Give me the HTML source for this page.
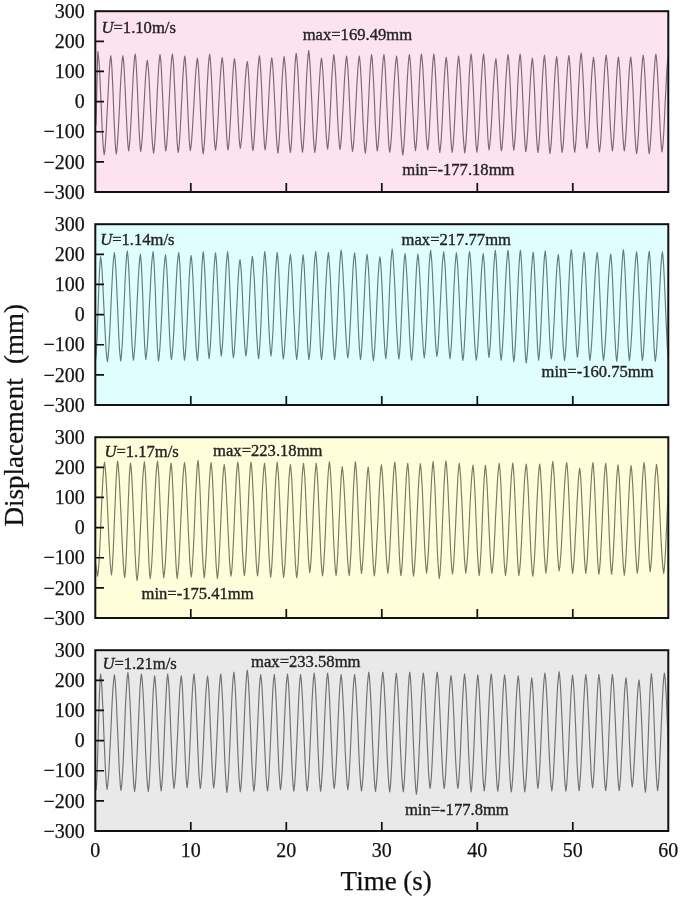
<!DOCTYPE html>
<html><head><meta charset="utf-8"><style>
html,body{margin:0;padding:0;background:#fff;width:685px;height:900px;overflow:hidden}
svg{display:block;filter:blur(0.35px)}
text{font-family:"Liberation Serif",serif;}
.a{stroke:#222;stroke-width:0.35px;paint-order:stroke}
.t{stroke:#111;stroke-width:0.25px}
</style></head><body>
<svg width="685" height="900" viewBox="0 0 685 900">
<rect width="685" height="900" fill="#fff"/>
<rect x="95.3" y="11.2" width="573.00" height="180.8" fill="#fce3ef"/>
<clipPath id="c0"><rect x="95.8" y="11.2" width="572.00" height="180.8"/></clipPath>
<path clip-path="url(#c0)" d="M95.8,125.7 96.0,122.5 96.2,116.7 96.4,108.7 96.6,99.1 96.8,88.6 97.1,78.2 97.3,68.6 97.5,60.6 97.7,54.8 97.9,51.6 98.5,56.1 99.2,64.1 99.8,75.2 100.4,88.6 101.1,103.1 101.7,117.6 102.3,131.0 102.9,142.1 103.6,150.2 104.2,154.6 104.9,150.3 105.5,142.6 106.2,131.9 106.8,119.1 107.5,105.2 108.2,91.3 108.8,78.5 109.5,67.8 110.1,60.1 110.8,55.8 111.3,60.1 111.9,67.7 112.4,78.4 113.0,91.1 113.5,104.9 114.0,118.8 114.6,131.5 115.1,142.1 115.7,149.8 116.2,154.0 116.9,149.8 117.5,142.1 118.2,131.5 118.9,118.8 119.6,104.9 120.2,91.1 120.9,78.4 121.6,67.7 122.2,60.1 122.9,55.8 123.5,59.9 124.1,67.4 124.6,77.7 125.2,90.0 125.8,103.4 126.4,116.8 127.0,129.2 127.5,139.4 128.1,146.9 128.7,151.0 129.3,146.8 130.0,139.2 130.6,128.7 131.3,116.2 131.9,102.5 132.6,88.8 133.2,76.3 133.9,65.8 134.5,58.2 135.2,54.0 135.8,58.2 136.3,65.8 136.8,76.3 137.4,88.9 137.9,102.7 138.5,116.4 139.0,129.0 139.6,139.5 140.1,147.1 140.7,151.3 141.4,147.4 142.0,140.2 142.7,130.4 143.3,118.6 144.0,105.8 144.7,93.0 145.3,81.2 146.0,71.4 146.6,64.3 147.3,60.3 147.9,64.3 148.6,71.6 149.2,81.6 149.8,93.6 150.4,106.7 151.1,119.8 151.7,131.8 152.3,141.8 153.0,149.1 153.6,153.1 154.2,148.9 154.9,141.1 155.5,130.5 156.2,117.7 156.8,103.9 157.4,90.0 158.1,77.2 158.7,66.6 159.4,58.9 160.0,54.6 160.6,58.8 161.2,66.3 161.7,76.7 162.3,89.2 162.9,102.8 163.5,116.4 164.1,128.9 164.6,139.3 165.2,146.8 165.8,151.0 166.5,146.8 167.1,139.2 167.8,128.7 168.4,116.2 169.1,102.5 169.8,88.8 170.4,76.3 171.1,65.8 171.7,58.2 172.4,54.0 173.0,58.3 173.6,66.0 174.1,76.6 174.7,89.4 175.3,103.3 175.9,117.1 176.5,129.9 177.0,140.5 177.6,148.2 178.2,152.5 178.9,148.3 179.5,140.8 180.2,130.4 180.8,117.9 181.5,104.3 182.2,90.7 182.8,78.2 183.5,67.8 184.1,60.3 184.8,56.1 185.4,60.2 185.9,67.6 186.5,77.8 187.0,90.1 187.6,103.4 188.1,116.7 188.7,129.0 189.2,139.2 189.8,146.6 190.3,150.7 191.0,146.7 191.7,139.5 192.4,129.5 193.1,117.5 193.9,104.5 194.6,91.4 195.3,79.4 196.0,69.5 196.7,62.2 197.4,58.2 198.0,62.4 198.6,69.9 199.1,80.2 199.7,92.6 200.3,106.1 200.9,119.6 201.5,132.0 202.0,142.4 202.6,149.9 203.2,154.0 203.8,149.7 204.5,141.9 205.1,131.1 205.8,118.2 206.4,104.2 207.0,90.1 207.7,77.2 208.3,66.4 209.0,58.6 209.6,54.3 210.2,58.4 210.8,65.9 211.4,76.3 212.0,88.7 212.6,102.2 213.1,115.7 213.7,128.1 214.3,138.5 214.9,146.0 215.5,150.1 216.2,146.1 216.8,138.9 217.5,128.9 218.2,116.9 218.8,103.9 219.5,90.8 220.2,78.8 220.9,68.9 221.5,61.6 222.2,57.6 222.8,61.6 223.4,68.8 223.9,78.8 224.5,90.7 225.1,103.7 225.7,116.7 226.3,128.6 226.8,138.6 227.4,145.8 228.0,149.8 228.7,145.9 229.3,138.7 229.9,128.9 230.6,117.1 231.2,104.3 231.9,91.5 232.6,79.7 233.2,69.9 233.8,62.8 234.5,58.8 235.1,62.7 235.7,69.7 236.2,79.4 236.8,91.0 237.4,103.6 238.0,116.2 238.6,127.8 239.1,137.4 239.7,144.4 240.3,148.3 241.0,144.5 241.7,137.7 242.4,128.4 243.1,117.1 243.8,104.9 244.5,92.7 245.2,81.4 245.9,72.1 246.6,65.3 247.3,61.5 247.9,65.4 248.4,72.4 249.0,82.0 249.5,93.6 250.1,106.1 250.7,118.7 251.2,130.2 251.8,139.9 252.3,146.8 252.9,150.7 253.6,146.6 254.2,139.2 254.8,128.9 255.5,116.6 256.1,103.3 256.8,89.9 257.4,77.6 258.1,67.3 258.8,59.9 259.4,55.8 260.0,59.9 260.5,67.2 261.1,77.4 261.7,89.6 262.2,102.8 262.8,116.0 263.4,128.2 264.0,138.4 264.5,145.7 265.1,149.8 265.8,145.8 266.4,138.6 267.1,128.7 267.8,116.8 268.5,103.9 269.1,90.9 269.8,79.0 270.5,69.1 271.1,61.9 271.8,57.9 272.4,62.0 273.0,69.5 273.6,79.8 274.2,92.1 274.9,105.5 275.5,118.9 276.1,131.3 276.7,141.5 277.3,149.0 277.9,153.1 278.5,148.9 279.1,141.4 279.8,131.0 280.4,118.5 281.0,104.9 281.6,91.3 282.2,78.8 282.9,68.4 283.5,60.9 284.1,56.7 284.7,60.9 285.4,68.4 286.0,78.7 286.6,91.1 287.2,104.6 287.9,118.1 288.5,130.5 289.1,140.9 289.8,148.4 290.4,152.5 291.0,148.2 291.6,140.5 292.1,129.8 292.7,116.9 293.3,103.0 293.9,89.0 294.5,76.1 295.0,65.4 295.6,57.7 296.2,53.4 296.8,57.7 297.5,65.4 298.1,76.1 298.7,88.9 299.4,102.8 300.0,116.7 300.6,129.5 301.2,140.2 301.9,147.9 302.5,152.2 303.1,147.8 303.7,139.9 304.4,128.9 305.0,115.7 305.6,101.4 306.2,87.0 306.8,73.9 307.5,62.9 308.1,54.9 308.7,50.5 309.3,55.0 309.9,62.9 310.5,73.9 311.1,87.2 311.8,101.5 312.4,115.9 313.0,129.1 313.6,140.1 314.2,148.1 314.8,152.5 315.5,148.4 316.1,141.1 316.8,130.9 317.5,118.7 318.1,105.4 318.8,92.1 319.5,79.9 320.2,69.7 320.8,62.3 321.5,58.2 322.1,62.2 322.7,69.3 323.3,79.1 323.9,90.9 324.6,103.7 325.2,116.5 325.8,128.3 326.4,138.1 327.0,145.3 327.6,149.2 328.2,145.1 328.8,137.7 329.5,127.5 330.1,115.2 330.7,101.9 331.3,88.6 331.9,76.3 332.6,66.1 333.2,58.7 333.8,54.6 334.4,58.7 335.0,66.1 335.7,76.4 336.3,88.7 336.9,102.1 337.5,115.4 338.1,127.7 338.8,138.0 339.4,145.4 340.0,149.5 340.7,145.5 341.3,138.1 342.0,128.1 342.6,116.0 343.3,102.8 344.0,89.6 344.6,77.5 345.3,67.5 345.9,60.2 346.6,56.1 347.2,60.2 347.8,67.7 348.4,78.0 349.0,90.3 349.6,103.7 350.1,117.1 350.7,129.5 351.3,139.7 351.9,147.2 352.5,151.3 353.2,147.2 353.9,139.7 354.5,129.5 355.2,117.1 355.9,103.7 356.6,90.3 357.3,78.0 357.9,67.7 358.6,60.2 359.3,56.1 359.9,60.3 360.5,67.9 361.1,78.4 361.7,90.9 362.3,104.6 362.9,118.3 363.5,130.8 364.1,141.3 364.7,148.9 365.3,153.1 365.9,148.9 366.6,141.1 367.2,130.5 367.8,117.7 368.5,103.9 369.1,90.0 369.7,77.2 370.3,66.6 371.0,58.9 371.6,54.6 372.2,58.8 372.7,66.3 373.3,76.7 373.9,89.2 374.5,102.8 375.0,116.4 375.6,128.9 376.2,139.3 376.7,146.8 377.3,151.0 378.0,146.8 378.6,139.3 379.3,128.9 379.9,116.4 380.6,102.8 381.3,89.2 381.9,76.7 382.6,66.3 383.2,58.8 383.9,54.6 384.5,58.8 385.1,66.5 385.6,77.0 386.2,89.7 386.8,103.4 387.4,117.2 388.0,129.8 388.5,140.3 389.1,148.0 389.7,152.2 390.4,148.1 391.1,140.5 391.8,130.2 392.5,117.7 393.1,104.2 393.8,90.6 394.5,78.2 395.2,67.8 395.9,60.3 396.6,56.1 397.2,60.4 397.8,68.1 398.5,78.8 399.1,91.6 399.7,105.5 400.3,119.5 400.9,132.3 401.6,143.0 402.2,150.7 402.8,155.0 403.5,150.6 404.1,142.8 404.8,131.9 405.4,118.9 406.1,104.8 406.8,90.7 407.4,77.6 408.1,66.8 408.7,58.9 409.4,54.6 410.0,58.8 410.6,66.3 411.2,76.7 411.8,89.1 412.4,102.7 413.1,116.2 413.7,128.6 414.3,139.0 414.9,146.5 415.5,150.7 416.1,146.5 416.7,138.9 417.3,128.5 417.9,116.0 418.4,102.4 419.0,88.7 419.6,76.2 420.2,65.8 420.8,58.2 421.4,54.0 422.0,58.1 422.7,65.6 423.3,76.0 423.9,88.4 424.5,101.9 425.2,115.4 425.8,127.8 426.4,138.2 427.1,145.7 427.7,149.8 428.3,145.7 428.9,138.2 429.5,127.8 430.1,115.4 430.8,101.9 431.4,88.4 432.0,76.0 432.6,65.6 433.2,58.1 433.8,54.0 434.4,58.3 435.0,66.0 435.6,76.6 436.2,89.4 436.8,103.3 437.4,117.1 438.0,129.9 438.6,140.5 439.2,148.2 439.8,152.5 440.4,148.4 441.1,140.9 441.7,130.7 442.4,118.3 443.0,104.9 443.6,91.5 444.3,79.2 444.9,68.9 445.6,61.4 446.2,57.3 446.8,61.4 447.4,68.9 448.0,79.2 448.6,91.5 449.2,104.9 449.8,118.3 450.4,130.7 451.0,140.9 451.6,148.4 452.2,152.5 452.8,148.3 453.5,140.8 454.1,130.4 454.8,117.9 455.4,104.3 456.0,90.7 456.7,78.2 457.3,67.8 458.0,60.3 458.6,56.1 459.2,60.3 459.8,67.9 460.5,78.3 461.1,90.8 461.7,104.5 462.3,118.1 462.9,130.6 463.6,141.1 464.2,148.6 464.8,152.8 465.4,148.5 466.1,140.8 466.7,130.1 467.3,117.3 468.0,103.4 468.6,89.5 469.2,76.7 469.8,66.0 470.5,58.3 471.1,54.0 471.7,58.3 472.3,65.9 472.8,76.5 473.4,89.3 474.0,103.1 474.6,116.9 475.2,129.7 475.7,140.3 476.3,148.0 476.9,152.2 477.6,148.0 478.2,140.3 478.9,129.7 479.6,116.9 480.2,103.1 480.9,89.3 481.6,76.5 482.3,65.9 482.9,58.3 483.6,54.0 484.1,58.1 484.7,65.6 485.2,76.0 485.8,88.4 486.3,101.9 486.8,115.4 487.4,127.8 487.9,138.2 488.5,145.7 489.0,149.8 489.7,145.9 490.4,138.7 491.1,128.9 491.8,117.1 492.4,104.3 493.1,91.5 493.8,79.7 494.5,69.9 495.2,62.8 495.9,58.8 496.4,62.8 497.0,70.0 497.5,80.0 498.1,91.9 498.6,104.9 499.2,117.9 499.8,129.8 500.3,139.8 500.8,147.0 501.4,151.0 502.1,146.8 502.7,139.3 503.4,128.9 504.1,116.4 504.8,102.8 505.4,89.2 506.1,76.7 506.8,66.3 507.4,58.8 508.1,54.6 508.7,58.7 509.2,66.2 509.8,76.5 510.4,88.9 510.9,102.4 511.5,115.8 512.1,128.2 512.7,138.5 513.2,146.0 513.8,150.1 514.4,145.9 515.1,138.4 515.7,128.0 516.3,115.6 517.0,102.1 517.6,88.5 518.2,76.1 518.8,65.7 519.5,58.2 520.1,54.0 520.7,58.2 521.2,65.9 521.8,76.4 522.4,89.1 523.0,102.8 523.5,116.6 524.1,129.2 524.7,139.7 525.2,147.4 525.8,151.6 526.5,147.6 527.1,140.3 527.8,130.2 528.4,118.1 529.1,104.9 529.8,91.8 530.4,79.7 531.1,69.6 531.7,62.3 532.4,58.2 532.9,62.3 533.5,69.7 534.0,79.9 534.6,92.1 535.1,105.4 535.7,118.7 536.2,130.9 536.8,141.1 537.4,148.4 537.9,152.5 538.6,148.3 539.2,140.7 539.9,130.2 540.5,117.6 541.2,103.9 541.9,90.1 542.5,77.5 543.2,67.0 543.8,59.4 544.5,55.2 545.0,59.5 545.6,67.1 546.1,77.8 546.7,90.5 547.2,104.3 547.7,118.1 548.3,130.9 548.8,141.5 549.4,149.2 549.9,153.4 550.6,149.2 551.3,141.7 551.9,131.2 552.6,118.7 553.3,105.1 554.0,91.4 554.7,78.9 555.3,68.5 556.0,60.9 556.7,56.7 557.2,60.9 557.8,68.4 558.3,78.7 558.9,91.1 559.4,104.6 559.9,118.1 560.5,130.5 561.0,140.9 561.6,148.4 562.1,152.5 562.8,148.3 563.5,140.7 564.1,130.2 564.8,117.7 565.5,104.0 566.2,90.3 566.9,77.8 567.5,67.3 568.2,59.7 568.9,55.5 569.5,59.7 570.1,67.3 570.6,77.7 571.2,90.2 571.8,103.9 572.4,117.5 573.0,130.0 573.5,140.5 574.1,148.0 574.7,152.2 575.3,147.9 576.0,140.2 576.6,129.5 577.3,116.6 577.9,102.7 578.5,88.7 579.2,75.8 579.8,65.1 580.5,57.4 581.1,53.1 581.7,57.2 582.3,64.7 582.9,74.9 583.5,87.3 584.0,100.7 584.6,114.1 585.2,126.4 585.8,136.7 586.4,144.2 587.0,148.3 587.6,144.4 588.3,137.2 589.0,127.4 589.6,115.6 590.2,102.8 590.9,90.0 591.5,78.2 592.2,68.4 592.9,61.3 593.5,57.3 594.1,61.4 594.7,68.8 595.3,79.0 595.9,91.3 596.5,104.6 597.0,117.9 597.6,130.2 598.2,140.4 598.8,147.8 599.4,151.9 600.1,147.7 600.8,140.2 601.4,129.7 602.1,117.2 602.8,103.6 603.5,89.9 604.2,77.4 604.8,67.0 605.5,59.4 606.2,55.2 606.8,59.4 607.4,66.9 608.1,77.2 608.7,89.6 609.3,103.1 609.9,116.6 610.5,129.0 611.2,139.4 611.8,146.9 612.4,151.0 613.0,146.9 613.6,139.6 614.2,129.4 614.8,117.3 615.4,104.0 616.0,90.8 616.6,78.6 617.2,68.4 617.8,61.1 618.4,57.0 619.0,61.1 619.6,68.4 620.2,78.6 620.8,90.8 621.3,104.0 621.9,117.3 622.5,129.4 623.1,139.6 623.7,146.9 624.3,151.0 624.9,146.9 625.6,139.6 626.2,129.4 626.9,117.3 627.5,104.0 628.1,90.8 628.8,78.6 629.4,68.4 630.1,61.1 630.7,57.0 631.3,61.2 631.9,68.8 632.5,79.2 633.1,91.7 633.7,105.4 634.2,119.0 634.8,131.5 635.4,142.0 636.0,149.5 636.6,153.7 637.3,149.5 637.9,141.7 638.6,131.1 639.2,118.3 639.9,104.5 640.6,90.6 641.2,77.8 641.9,67.2 642.5,59.5 643.2,55.2 643.8,59.5 644.4,67.2 645.0,77.8 645.6,90.6 646.2,104.5 646.8,118.3 647.4,131.1 648.0,141.7 648.6,149.5 649.2,153.7 649.9,149.4 650.5,141.6 651.2,130.8 651.9,117.9 652.5,103.9 653.2,89.8 653.9,76.9 654.6,66.1 655.2,58.3 655.9,54.0 656.5,58.2 657.1,65.9 657.7,76.5 658.3,89.2 659.0,103.0 659.6,116.8 660.2,129.4 660.8,140.0 661.4,147.7 662.0,151.9 662.6,147.8 663.3,140.3 663.9,130.0 664.5,117.6 665.1,104.2 665.8,90.7 666.4,78.3 667.0,68.0 667.7,60.5 668.3,56.4" fill="none" stroke="#1a0610" stroke-opacity="0.56" stroke-width="1.15" stroke-linejoin="round"/>
<path d="M95.3,161.86H104.00M95.3,131.73H104.00M95.3,101.60H104.00M95.3,71.47H104.00M95.3,41.34H104.00M190.80,192.0V183.00M286.30,192.0V183.00M381.80,192.0V183.00M477.30,192.0V183.00M572.80,192.0V183.00" stroke="#111" stroke-width="1.7" fill="none"/>
<rect x="95.3" y="11.2" width="573.00" height="180.8" fill="none" stroke="#111" stroke-width="2"/>
<text x="84.8" y="17.91" font-size="20" text-anchor="end" fill="#111" class="t">300</text>
<text x="84.8" y="48.04" font-size="20" text-anchor="end" fill="#111" class="t">200</text>
<text x="84.8" y="78.17" font-size="20" text-anchor="end" fill="#111" class="t">100</text>
<text x="84.8" y="108.30" font-size="20" text-anchor="end" fill="#111" class="t">0</text>
<text x="84.8" y="138.43" font-size="20" text-anchor="end" fill="#111" class="t">−100</text>
<text x="84.8" y="168.56" font-size="20" text-anchor="end" fill="#111" class="t">−200</text>
<text x="84.8" y="198.69" font-size="20" text-anchor="end" fill="#111" class="t">−300</text>
<text x="101.5" y="32.7" font-size="16.6" fill="#222" class="a"><tspan font-style="italic">U</tspan>=1.10m/s</text>
<text x="302.7" y="40" font-size="16.6" fill="#222" class="a">max=169.49mm</text>
<text x="402.3" y="174.6" font-size="16.6" fill="#222" class="a">min=-177.18mm</text>
<rect x="95.3" y="224.2" width="573.00" height="180.8" fill="#e0fefe"/>
<clipPath id="c1"><rect x="95.8" y="224.2" width="572.00" height="180.8"/></clipPath>
<path clip-path="url(#c1)" d="M95.6,359.8 96.1,355.3 96.6,347.3 97.1,336.1 97.6,322.8 98.1,308.3 98.6,293.8 99.1,280.4 99.6,269.3 100.1,261.2 100.6,256.8 101.3,261.3 102.0,269.5 102.6,280.8 103.3,294.4 104.0,309.2 104.7,323.9 105.4,337.5 106.0,348.9 106.7,357.1 107.4,361.6 108.1,356.9 108.8,348.3 109.5,336.6 110.2,322.4 110.9,307.1 111.6,291.7 112.3,277.6 113.0,265.8 113.7,257.3 114.4,252.5 115.0,257.2 115.7,265.7 116.3,277.4 116.9,291.5 117.6,306.8 118.2,322.0 118.8,336.1 119.4,347.8 120.1,356.3 120.7,361.0 121.4,356.2 122.0,347.6 122.7,335.8 123.3,321.5 124.0,306.0 124.7,290.5 125.3,276.3 126.0,264.4 126.6,255.8 127.3,251.0 127.9,255.8 128.5,264.3 129.1,276.1 129.7,290.2 130.3,305.6 131.0,320.9 131.6,335.1 132.2,346.8 132.8,355.4 133.4,360.1 134.1,355.5 134.8,347.2 135.5,335.8 136.2,322.1 136.9,307.2 137.6,292.3 138.3,278.6 139.0,267.2 139.7,258.9 140.4,254.3 140.9,258.9 141.5,267.1 142.0,278.5 142.6,292.1 143.1,306.9 143.6,321.7 144.2,335.4 144.7,346.7 145.3,354.9 145.8,359.5 146.5,354.8 147.3,346.4 148.0,334.7 148.7,320.8 149.4,305.6 150.2,290.4 150.9,276.4 151.6,264.7 152.4,256.3 153.1,251.6 153.6,256.4 154.2,264.9 154.7,276.7 155.3,290.9 155.8,306.3 156.3,321.7 156.9,335.9 157.4,347.7 158.0,356.3 158.5,361.0 159.2,356.4 159.9,348.1 160.6,336.7 161.3,322.9 162.0,308.0 162.7,293.0 163.4,279.3 164.1,267.8 164.8,259.5 165.5,254.9 166.1,259.5 166.7,267.7 167.3,278.9 167.9,292.5 168.4,307.2 169.0,321.9 169.6,335.5 170.2,346.8 170.8,355.0 171.4,359.5 172.1,354.9 172.9,346.5 173.6,334.9 174.3,321.1 175.1,306.0 175.8,290.9 176.5,277.1 177.2,265.5 178.0,257.2 178.7,252.5 179.3,257.2 179.9,265.6 180.4,277.2 181.0,291.2 181.6,306.3 182.2,321.5 182.8,335.4 183.3,347.0 183.9,355.4 184.5,360.1 185.2,355.6 185.8,347.4 186.5,336.1 187.1,322.6 187.8,307.8 188.5,293.1 189.1,279.5 189.8,268.3 190.4,260.1 191.1,255.5 191.7,260.1 192.4,268.3 193.0,279.6 193.6,293.2 194.2,308.0 194.9,322.7 195.5,336.3 196.1,347.6 196.8,355.9 197.4,360.4 198.0,355.7 198.6,347.2 199.1,335.5 199.7,321.4 200.3,306.2 200.9,290.9 201.5,276.8 202.0,265.1 202.6,256.6 203.2,251.9 203.8,256.6 204.4,264.9 205.0,276.4 205.6,290.2 206.1,305.3 206.7,320.3 207.3,334.1 207.9,345.6 208.5,354.0 209.1,358.6 209.7,354.0 210.4,345.7 211.0,334.3 211.7,320.6 212.3,305.7 212.9,290.8 213.6,277.1 214.2,265.7 214.9,257.4 215.5,252.8 216.1,257.3 216.7,265.4 217.2,276.5 217.8,289.8 218.4,304.4 219.0,318.9 219.6,332.2 220.1,343.3 220.7,351.4 221.3,355.9 221.9,351.4 222.6,343.2 223.2,332.0 223.8,318.5 224.4,303.9 225.1,289.3 225.7,275.8 226.3,264.6 227.0,256.4 227.6,251.9 228.2,256.5 228.8,264.8 229.3,276.2 229.9,289.9 230.5,304.8 231.1,319.7 231.7,333.4 232.2,344.8 232.8,353.1 233.4,357.7 234.1,353.4 234.7,345.7 235.4,335.1 236.0,322.4 236.7,308.6 237.4,294.7 238.0,282.0 238.7,271.4 239.3,263.7 240.0,259.5 240.6,263.6 241.2,271.2 241.8,281.6 242.4,294.1 242.9,307.7 243.5,321.3 244.1,333.7 244.7,344.2 245.3,351.7 245.9,355.9 246.6,351.6 247.2,343.8 247.8,333.1 248.5,320.2 249.2,306.2 249.8,292.2 250.5,279.3 251.1,268.5 251.8,260.8 252.4,256.4 253.0,260.9 253.6,268.9 254.3,279.9 254.9,293.1 255.5,307.5 256.1,321.9 256.7,335.1 257.4,346.2 258.0,354.2 258.6,358.6 259.2,354.0 259.8,345.6 260.5,334.0 261.1,320.2 261.7,305.1 262.3,290.0 262.9,276.2 263.6,264.6 264.2,256.3 264.8,251.6 265.4,256.1 266.0,264.3 266.7,275.6 267.3,289.1 267.9,303.8 268.5,318.4 269.1,331.9 269.8,343.2 270.4,351.4 271.0,355.9 271.6,351.4 272.2,343.3 272.9,332.2 273.5,318.8 274.1,304.2 274.7,289.6 275.3,276.3 276.0,265.1 276.6,257.0 277.2,252.5 277.8,257.1 278.4,265.5 279.0,277.0 279.6,290.7 280.2,305.7 280.9,320.7 281.5,334.5 282.1,346.0 282.7,354.3 283.3,358.9 284.0,354.4 284.7,346.2 285.4,334.9 286.1,321.3 286.9,306.6 287.6,291.9 288.3,278.3 289.0,267.1 289.7,258.9 290.4,254.3 291.0,258.9 291.7,267.1 292.3,278.5 292.9,292.1 293.5,306.9 294.2,321.7 294.8,335.4 295.4,346.7 296.1,354.9 296.7,359.5 297.3,355.0 298.0,346.8 298.6,335.5 299.3,321.9 299.9,307.2 300.5,292.5 301.2,278.9 301.8,267.7 302.5,259.5 303.1,254.9 303.7,259.5 304.3,267.7 304.8,278.9 305.4,292.5 306.0,307.2 306.6,321.9 307.2,335.5 307.7,346.8 308.3,355.0 308.9,359.5 309.6,354.8 310.3,346.4 310.9,334.7 311.6,320.8 312.3,305.6 313.0,290.4 313.7,276.4 314.3,264.7 315.0,256.3 315.7,251.6 316.3,256.3 316.9,264.7 317.4,276.4 318.0,290.4 318.6,305.6 319.2,320.8 319.8,334.7 320.3,346.4 320.9,354.8 321.5,359.5 322.2,354.9 322.9,346.5 323.6,334.9 324.3,321.1 324.9,306.0 325.6,290.9 326.3,277.1 327.0,265.5 327.7,257.2 328.4,252.5 329.0,257.2 329.6,265.5 330.3,277.1 330.9,290.9 331.5,306.0 332.1,321.1 332.7,334.9 333.4,346.5 334.0,354.9 334.6,359.5 335.2,354.8 335.9,346.2 336.6,334.4 337.2,320.2 337.9,304.8 338.5,289.4 339.2,275.2 339.8,263.4 340.5,254.9 341.1,250.1 341.8,254.8 342.4,263.2 343.1,274.9 343.8,288.9 344.5,304.1 345.1,319.3 345.8,333.2 346.5,344.9 347.1,353.3 347.8,358.0 348.5,353.4 349.2,345.2 349.8,333.8 350.5,320.2 351.2,305.4 351.9,290.6 352.6,277.0 353.2,265.6 353.9,257.4 354.6,252.8 355.2,257.5 355.8,265.8 356.4,277.3 357.0,291.1 357.6,306.2 358.1,321.2 358.7,335.0 359.3,346.5 359.9,354.9 360.5,359.5 361.2,354.9 361.8,346.7 362.5,335.4 363.1,321.7 363.8,306.9 364.5,292.1 365.1,278.5 365.8,267.1 366.4,258.9 367.1,254.3 367.7,259.0 368.4,267.3 369.0,278.8 369.6,292.5 370.2,307.5 370.9,322.5 371.5,336.3 372.1,347.8 372.8,356.1 373.4,360.7 374.0,356.2 374.7,348.1 375.3,336.8 376.0,323.4 376.6,308.7 377.3,294.1 377.9,280.6 378.6,269.4 379.2,261.3 379.9,256.8 380.5,261.2 381.1,269.1 381.7,280.1 382.3,293.3 382.9,307.7 383.4,322.0 384.0,335.2 384.6,346.2 385.2,354.2 385.8,358.6 386.4,353.8 387.1,345.3 387.7,333.4 388.4,319.2 389.0,303.8 389.6,288.3 390.3,274.1 390.9,262.3 391.6,253.7 392.2,249.0 392.9,253.7 393.5,262.3 394.2,274.2 394.9,288.4 395.5,303.9 396.2,319.4 396.9,333.7 397.6,345.5 398.2,354.1 398.9,358.9 399.5,354.3 400.1,346.1 400.7,334.7 401.3,321.1 401.9,306.3 402.6,291.5 403.2,277.9 403.8,266.5 404.4,258.3 405.0,253.7 405.7,258.3 406.3,266.7 407.0,278.2 407.6,291.9 408.3,306.9 409.0,321.9 409.6,335.7 410.3,347.2 410.9,355.5 411.6,360.1 412.2,355.5 412.9,347.2 413.5,335.7 414.1,322.0 414.8,307.1 415.4,292.1 416.0,278.4 416.6,266.9 417.3,258.6 417.9,254.0 418.5,258.5 419.2,266.7 419.8,277.9 420.5,291.4 421.1,306.0 421.7,320.7 422.4,334.1 423.0,345.3 423.7,353.5 424.3,358.0 424.9,353.3 425.6,344.9 426.2,333.3 426.8,319.4 427.5,304.2 428.1,289.1 428.7,275.1 429.3,263.5 430.0,255.1 430.6,250.4 431.2,255.0 431.9,263.3 432.5,274.8 433.1,288.5 433.8,303.5 434.4,318.4 435.0,332.1 435.6,343.6 436.3,351.9 436.9,356.5 437.6,351.9 438.3,343.8 438.9,332.5 439.6,318.9 440.3,304.2 441.0,289.5 441.7,275.9 442.3,264.6 443.0,256.5 443.7,251.9 444.3,256.6 445.0,264.9 445.6,276.4 446.2,290.2 446.9,305.3 447.5,320.3 448.1,334.1 448.7,345.6 449.4,354.0 450.0,358.6 450.6,354.0 451.3,345.7 451.9,334.3 452.6,320.6 453.2,305.7 453.8,290.8 454.5,277.1 455.1,265.7 455.8,257.4 456.4,252.8 457.0,257.5 457.7,265.9 458.3,277.5 459.0,291.5 459.6,306.6 460.3,321.8 460.9,335.7 461.6,347.3 462.2,355.7 462.9,360.4 463.6,355.7 464.2,347.2 464.9,335.4 465.5,321.3 466.2,306.0 466.9,290.7 467.5,276.6 468.2,264.9 468.8,256.3 469.5,251.6 470.2,256.3 470.9,264.8 471.5,276.5 472.2,290.6 472.9,305.9 473.6,321.1 474.3,335.2 474.9,346.9 475.6,355.4 476.3,360.1 477.0,355.5 477.7,347.2 478.4,335.7 479.1,321.9 479.8,306.9 480.4,291.9 481.1,278.2 481.8,266.7 482.5,258.3 483.2,253.7 483.8,258.2 484.4,266.3 484.9,277.5 485.5,291.0 486.1,305.6 486.7,320.2 487.3,333.6 487.8,344.8 488.4,352.9 489.0,357.4 489.6,352.7 490.3,344.4 490.9,332.8 491.5,319.0 492.1,303.9 492.8,288.8 493.4,275.0 494.0,263.4 494.7,255.1 495.3,250.4 495.9,255.2 496.5,263.8 497.0,275.6 497.6,289.8 498.2,305.3 498.8,320.7 499.4,334.9 499.9,346.8 500.5,355.3 501.1,360.1 501.8,355.3 502.5,346.8 503.2,334.9 503.9,320.7 504.6,305.3 505.2,289.8 505.9,275.6 506.6,263.8 507.3,255.2 508.0,250.4 508.6,255.2 509.2,263.9 509.7,275.9 510.3,290.3 510.9,306.0 511.5,321.7 512.1,336.1 512.6,348.1 513.2,356.8 513.8,361.6 514.5,356.8 515.1,348.1 515.8,336.1 516.4,321.7 517.1,306.0 517.8,290.3 518.4,275.9 519.1,263.9 519.7,255.2 520.4,250.4 521.0,255.3 521.6,264.1 522.1,276.3 522.7,290.9 523.3,306.7 523.9,322.6 524.5,337.2 525.0,349.3 525.6,358.2 526.2,363.0 526.9,358.2 527.6,349.6 528.3,337.6 529.0,323.2 529.7,307.6 530.4,292.0 531.1,277.7 531.8,265.7 532.5,257.0 533.2,252.2 533.7,256.9 534.3,265.3 534.8,277.0 535.4,291.0 535.9,306.2 536.4,321.4 537.0,335.3 537.5,347.0 538.1,355.4 538.6,360.1 539.3,355.4 539.9,346.8 540.6,335.1 541.2,320.9 541.9,305.6 542.6,290.2 543.2,276.1 543.9,264.3 544.5,255.8 545.2,251.0 545.8,255.7 546.4,264.1 547.0,275.8 547.6,289.8 548.2,305.0 548.9,320.2 549.5,334.1 550.1,345.8 550.7,354.2 551.3,358.9 552.0,354.4 552.7,346.2 553.4,335.0 554.1,321.5 554.8,306.8 555.5,292.1 556.2,278.6 556.9,267.3 557.6,259.2 558.3,254.6 558.9,259.2 559.5,267.5 560.2,278.9 560.8,292.6 561.4,307.5 562.0,322.4 562.6,336.1 563.3,347.5 563.9,355.8 564.5,360.4 565.2,355.6 565.9,346.9 566.5,335.0 567.2,320.7 567.9,305.1 568.6,289.5 569.3,275.2 569.9,263.3 570.6,254.6 571.3,249.8 571.9,254.5 572.5,262.9 573.1,274.4 573.7,288.3 574.3,303.5 575.0,318.6 575.6,332.5 576.2,344.0 576.8,352.4 577.4,357.1 578.1,352.5 578.7,344.3 579.4,333.0 580.1,319.4 580.8,304.7 581.4,289.9 582.1,276.3 582.8,265.0 583.4,256.8 584.1,252.2 584.7,256.9 585.3,265.4 585.8,277.1 586.4,291.1 587.0,306.3 587.6,321.6 588.2,335.6 588.7,347.2 589.3,355.7 589.9,360.4 590.6,355.7 591.4,347.3 592.1,335.6 592.8,321.7 593.5,306.5 594.3,291.3 595.0,277.3 595.7,265.7 596.5,257.2 597.2,252.5 597.8,257.2 598.5,265.7 599.1,277.3 599.7,291.3 600.4,306.5 601.0,321.7 601.6,335.6 602.2,347.3 602.9,355.7 603.5,360.4 604.2,355.8 604.9,347.5 605.7,336.0 606.4,322.2 607.1,307.2 607.8,292.2 608.5,278.5 609.3,267.0 610.0,258.6 610.7,254.0 611.3,258.7 611.9,267.1 612.5,278.7 613.1,292.6 613.7,307.7 614.3,322.8 614.9,336.7 615.5,348.3 616.1,356.7 616.7,361.3 617.4,356.5 618.0,347.7 618.7,335.7 619.4,321.3 620.0,305.6 620.7,289.9 621.4,275.4 622.1,263.4 622.7,254.7 623.4,249.8 624.0,254.6 624.6,263.3 625.2,275.2 625.8,289.5 626.4,305.1 627.0,320.7 627.6,335.0 628.2,346.9 628.8,355.6 629.4,360.4 630.1,355.7 630.8,347.2 631.6,335.5 632.3,321.4 633.0,306.2 633.7,290.9 634.4,276.8 635.2,265.1 635.9,256.6 636.6,251.9 637.2,256.6 637.8,265.1 638.3,276.8 638.9,290.9 639.5,306.2 640.1,321.4 640.7,335.5 641.2,347.2 641.8,355.7 642.4,360.4 643.1,355.7 643.8,347.1 644.4,335.4 645.1,321.2 645.8,305.9 646.5,290.5 647.2,276.4 647.8,264.6 648.5,256.1 649.2,251.3 649.8,256.1 650.4,264.7 651.0,276.6 651.6,290.8 652.2,306.3 652.9,321.8 653.5,336.1 654.1,347.9 654.7,356.5 655.3,361.3 656.0,356.6 656.7,348.0 657.4,336.2 658.1,322.0 658.8,306.6 659.6,291.2 660.3,277.0 661.0,265.2 661.7,256.7 662.4,251.9 663.0,256.6 663.6,265.0 664.2,276.7 664.8,290.7 665.5,305.9 666.1,321.1 666.7,335.0 667.3,346.7 667.9,355.1 668.5,359.8" fill="none" stroke="#001414" stroke-opacity="0.56" stroke-width="1.15" stroke-linejoin="round"/>
<path d="M95.3,374.86H104.00M95.3,344.73H104.00M95.3,314.60H104.00M95.3,284.47H104.00M95.3,254.34H104.00M190.80,405.0V396.00M286.30,405.0V396.00M381.80,405.0V396.00M477.30,405.0V396.00M572.80,405.0V396.00" stroke="#111" stroke-width="1.7" fill="none"/>
<rect x="95.3" y="224.2" width="573.00" height="180.8" fill="none" stroke="#111" stroke-width="2"/>
<text x="84.8" y="230.91" font-size="20" text-anchor="end" fill="#111" class="t">300</text>
<text x="84.8" y="261.04" font-size="20" text-anchor="end" fill="#111" class="t">200</text>
<text x="84.8" y="291.17" font-size="20" text-anchor="end" fill="#111" class="t">100</text>
<text x="84.8" y="321.30" font-size="20" text-anchor="end" fill="#111" class="t">0</text>
<text x="84.8" y="351.43" font-size="20" text-anchor="end" fill="#111" class="t">−100</text>
<text x="84.8" y="381.56" font-size="20" text-anchor="end" fill="#111" class="t">−200</text>
<text x="84.8" y="411.69" font-size="20" text-anchor="end" fill="#111" class="t">−300</text>
<text x="100.2" y="245.4" font-size="16.6" fill="#222" class="a"><tspan font-style="italic">U</tspan>=1.14m/s</text>
<text x="401.6" y="244.6" font-size="16.6" fill="#222" class="a">max=217.77mm</text>
<text x="541.5" y="377.3" font-size="16.6" fill="#222" class="a">min=-160.75mm</text>
<rect x="95.3" y="437.2" width="573.00" height="180.8" fill="#fefeda"/>
<clipPath id="c2"><rect x="95.8" y="437.2" width="572.00" height="180.8"/></clipPath>
<path clip-path="url(#c2)" d="M95.5,563.8 95.7,564.3 95.9,565.3 96.1,566.6 96.3,568.2 96.5,569.9 96.8,571.7 97.0,573.3 97.2,574.6 97.4,575.6 97.6,576.1 98.3,571.2 99.0,562.3 99.7,550.0 100.4,535.2 101.0,519.2 101.7,503.1 102.4,488.4 103.1,476.1 103.8,467.2 104.5,462.2 105.2,467.1 105.9,475.9 106.6,488.1 107.3,502.7 108.0,518.6 108.7,534.4 109.4,549.0 110.1,561.2 110.8,570.0 111.5,574.9 112.1,570.0 112.7,561.1 113.3,548.8 113.9,534.0 114.5,518.0 115.2,501.9 115.8,487.2 116.4,474.9 117.0,466.0 117.6,461.0 118.3,466.1 119.0,475.2 119.7,487.8 120.4,502.9 121.2,519.3 121.9,535.7 122.6,550.8 123.3,563.4 124.0,572.6 124.7,577.6 125.3,572.7 125.9,563.7 126.4,551.3 127.0,536.5 127.6,520.4 128.2,504.2 128.8,489.4 129.3,477.0 129.9,468.1 130.5,463.1 131.2,468.2 131.8,477.4 132.5,490.1 133.1,505.3 133.8,521.8 134.5,538.3 135.1,553.5 135.8,566.2 136.4,575.4 137.1,580.4 137.8,575.3 138.6,566.0 139.3,553.2 140.0,537.9 140.8,521.2 141.5,504.5 142.2,489.1 142.9,476.3 143.7,467.1 144.4,461.9 145.0,467.0 145.6,476.1 146.1,488.7 146.7,503.8 147.3,520.2 147.9,536.6 148.5,551.7 149.0,564.3 149.6,573.5 150.2,578.5 150.9,573.4 151.7,564.2 152.4,551.5 153.1,536.3 153.8,519.8 154.6,503.2 155.3,488.0 156.0,475.3 156.8,466.1 157.5,461.0 158.1,466.1 158.8,475.2 159.4,487.8 160.0,502.9 160.7,519.3 161.3,535.7 161.9,550.8 162.5,563.4 163.2,572.6 163.8,577.6 164.5,572.7 165.3,563.7 166.0,551.3 166.7,536.5 167.4,520.4 168.2,504.2 168.9,489.4 169.6,477.0 170.4,468.1 171.1,463.1 171.7,468.1 172.3,477.2 172.9,489.6 173.5,504.6 174.1,520.8 174.8,537.1 175.4,552.0 176.0,564.5 176.6,573.5 177.2,578.5 177.9,573.5 178.7,564.4 179.4,551.9 180.1,536.9 180.8,520.5 181.6,504.2 182.3,489.2 183.0,476.6 183.8,467.5 184.5,462.5 185.2,467.5 185.9,476.4 186.5,488.8 187.2,503.6 187.9,519.8 188.6,535.9 189.3,550.7 189.9,563.1 190.6,572.0 191.3,577.0 192.0,572.0 192.6,562.8 193.3,550.2 194.0,535.1 194.7,518.7 195.3,502.2 196.0,487.1 196.7,474.5 197.3,465.4 198.0,460.3 198.6,465.4 199.2,474.6 199.9,487.3 200.5,502.5 201.1,519.0 201.7,535.5 202.3,550.7 203.0,563.4 203.6,572.5 204.2,577.6 204.9,572.6 205.6,563.6 206.3,551.2 207.0,536.3 207.6,520.1 208.3,503.9 209.0,488.9 209.7,476.5 210.4,467.5 211.1,462.5 211.7,467.5 212.4,476.6 213.0,489.2 213.6,504.2 214.2,520.5 214.9,536.9 215.5,551.9 216.1,564.4 216.8,573.5 217.4,578.5 218.1,573.6 218.8,564.7 219.4,552.4 220.1,537.6 220.8,521.6 221.5,505.5 222.2,490.8 222.8,478.5 223.5,469.6 224.2,464.6 224.9,469.5 225.6,478.2 226.2,490.2 226.9,504.7 227.6,520.4 228.3,536.1 229.0,550.5 229.6,562.6 230.3,571.3 231.0,576.1 231.7,571.2 232.4,562.3 233.0,550.0 233.7,535.2 234.4,519.2 235.1,503.1 235.8,488.4 236.4,476.1 237.1,467.2 237.8,462.2 238.5,467.1 239.1,476.0 239.8,488.2 240.4,502.9 241.1,518.9 241.8,534.8 242.4,549.5 243.1,561.7 243.7,570.6 244.4,575.5 245.1,570.6 245.7,561.7 246.4,549.5 247.0,534.8 247.7,518.9 248.4,502.9 249.0,488.2 249.7,476.0 250.3,467.1 251.0,462.2 251.7,467.1 252.3,476.0 252.9,488.3 253.6,503.0 254.2,519.0 254.9,535.0 255.6,549.7 256.2,562.0 256.9,570.9 257.5,575.8 258.2,570.9 258.9,562.1 259.6,550.0 260.3,535.4 261.0,519.6 261.7,503.8 262.4,489.2 263.1,477.1 263.8,468.3 264.5,463.4 265.1,468.4 265.7,477.3 266.4,489.6 267.0,504.3 267.6,520.4 268.2,536.4 268.8,551.2 269.5,563.5 270.1,572.4 270.7,577.3 271.3,572.3 272.0,563.3 272.6,550.9 273.3,536.0 273.9,519.8 274.6,503.6 275.2,488.6 275.9,476.2 276.6,467.2 277.2,462.2 277.8,467.2 278.5,476.2 279.1,488.6 279.8,503.6 280.4,519.8 281.0,536.0 281.7,550.9 282.3,563.3 283.0,572.3 283.6,577.3 284.3,572.4 285.0,563.6 285.6,551.4 286.3,536.8 287.0,521.0 287.7,505.1 288.4,490.5 289.0,478.3 289.7,469.5 290.4,464.6 291.0,469.5 291.7,478.4 292.3,490.6 292.9,505.2 293.5,521.1 294.2,537.0 294.8,551.7 295.4,563.9 296.1,572.7 296.7,577.6 297.4,572.7 298.1,563.7 298.7,551.4 299.4,536.6 300.1,520.5 300.8,504.4 301.5,489.6 302.1,477.3 302.8,468.4 303.5,463.4 304.1,468.2 304.8,476.7 305.4,488.5 306.0,502.6 306.6,518.0 307.3,533.3 307.9,547.5 308.5,559.2 309.2,567.8 309.8,572.5 310.4,567.8 311.1,559.2 311.7,547.5 312.4,533.3 313.0,518.0 313.6,502.6 314.3,488.5 314.9,476.7 315.6,468.2 316.2,463.4 316.8,468.3 317.5,477.1 318.1,489.2 318.7,503.8 319.4,519.6 320.0,535.4 320.6,550.0 321.2,562.1 321.9,570.9 322.5,575.8 323.2,570.9 323.9,562.0 324.6,549.7 325.3,534.9 325.9,518.9 326.6,502.8 327.3,488.1 328.0,475.8 328.7,466.9 329.4,461.9 330.1,466.8 330.7,475.7 331.4,488.0 332.1,502.7 332.8,518.7 333.4,534.7 334.1,549.4 334.8,561.7 335.4,570.6 336.1,575.5 336.7,570.8 337.3,562.3 337.9,550.5 338.5,536.4 339.1,521.1 339.8,505.8 340.4,491.7 341.0,480.0 341.6,471.5 342.2,466.7 342.9,471.5 343.6,480.0 344.3,491.7 345.0,505.8 345.7,521.1 346.4,536.4 347.1,550.5 347.8,562.3 348.5,570.8 349.2,575.5 349.8,570.6 350.4,561.7 351.1,549.4 351.7,534.7 352.3,518.7 352.9,502.7 353.5,488.0 354.2,475.7 354.8,466.8 355.4,461.9 356.0,466.7 356.6,475.5 357.2,487.5 357.8,502.0 358.4,517.7 359.1,533.4 359.7,547.8 360.3,559.8 360.9,568.6 361.5,573.4 362.2,568.8 362.8,560.5 363.5,549.0 364.2,535.2 364.9,520.2 365.5,505.2 366.2,491.5 366.9,480.0 367.5,471.6 368.2,467.0 368.8,471.8 369.4,480.3 370.0,492.0 370.6,506.1 371.2,521.4 371.9,536.7 372.5,550.8 373.1,562.6 373.7,571.1 374.3,575.8 375.0,571.0 375.7,562.3 376.4,550.4 377.1,536.0 377.9,520.4 378.6,504.7 379.3,490.4 380.0,478.4 380.7,469.7 381.4,464.9 382.0,469.6 382.7,478.1 383.3,489.8 384.0,503.8 384.6,519.0 385.2,534.3 385.9,548.3 386.5,559.9 387.2,568.4 387.8,573.1 388.5,568.3 389.2,559.6 389.9,547.6 390.6,533.3 391.3,517.7 392.0,502.0 392.7,487.7 393.4,475.7 394.1,467.0 394.8,462.2 395.4,467.1 396.0,476.0 396.6,488.2 397.2,502.9 397.9,518.9 398.5,534.8 399.1,549.5 399.7,561.7 400.3,570.6 400.9,575.5 401.6,570.6 402.3,561.9 402.9,549.8 403.6,535.3 404.3,519.5 405.0,503.7 405.7,489.2 406.3,477.1 407.0,468.3 407.7,463.4 408.3,468.3 408.9,477.1 409.4,489.3 410.0,503.9 410.6,519.8 411.2,535.6 411.8,550.2 412.3,562.4 412.9,571.2 413.5,576.1 414.2,571.2 414.9,562.4 415.6,550.3 416.3,535.7 416.9,519.9 417.6,504.1 418.3,489.5 419.0,477.4 419.7,468.6 420.4,463.7 421.0,468.5 421.6,477.0 422.3,488.8 422.9,503.0 423.5,518.4 424.1,533.8 424.7,548.0 425.4,559.8 426.0,568.4 426.6,573.1 427.2,568.3 427.9,559.5 428.6,547.5 429.2,533.1 429.9,517.4 430.5,501.7 431.2,487.2 431.8,475.2 432.5,466.4 433.1,461.6 433.7,466.7 434.3,475.8 435.0,488.5 435.6,503.6 436.2,520.1 436.8,536.5 437.4,551.7 438.1,564.3 438.7,573.5 439.3,578.5 440.0,573.4 440.6,564.2 441.3,551.5 441.9,536.3 442.6,519.8 443.3,503.2 443.9,488.0 444.6,475.3 445.2,466.1 445.9,461.0 446.6,465.9 447.2,474.8 447.9,487.0 448.5,501.6 449.2,517.5 449.9,533.4 450.5,548.1 451.2,560.3 451.8,569.1 452.5,574.0 453.2,569.2 453.9,560.6 454.5,548.6 455.2,534.3 455.9,518.7 456.6,503.1 457.3,488.8 457.9,476.9 458.6,468.2 459.3,463.4 459.9,468.2 460.6,476.8 461.2,488.6 461.9,502.8 462.6,518.3 463.2,533.7 463.9,547.9 464.5,559.8 465.2,568.3 465.8,573.1 466.5,568.4 467.2,560.0 468.0,548.3 468.7,534.4 469.4,519.2 470.1,504.0 470.8,490.0 471.6,478.3 472.3,469.9 473.0,465.2 473.6,470.0 474.2,478.6 474.9,490.5 475.5,504.8 476.1,520.4 476.7,535.9 477.3,550.2 478.0,562.1 478.6,570.7 479.2,575.5 479.8,570.7 480.4,562.1 481.1,550.2 481.7,535.9 482.3,520.4 482.9,504.8 483.5,490.5 484.2,478.6 484.8,470.0 485.4,465.2 486.0,469.9 486.7,478.3 487.3,490.0 488.0,504.0 488.6,519.2 489.3,534.4 489.9,548.3 490.6,560.0 491.2,568.4 491.9,573.1 492.6,568.3 493.4,559.8 494.1,547.9 494.8,533.7 495.5,518.3 496.3,502.8 497.0,488.6 497.7,476.8 498.5,468.2 499.2,463.4 499.8,468.3 500.5,477.1 501.1,489.2 501.7,503.7 502.4,519.5 503.0,535.3 503.6,549.8 504.2,561.9 504.9,570.6 505.5,575.5 506.2,570.6 507.0,561.8 507.7,549.7 508.4,535.1 509.1,519.3 509.9,503.5 510.6,488.9 511.3,476.8 512.1,468.0 512.8,463.1 513.4,468.0 514.0,476.8 514.6,488.9 515.2,503.5 515.8,519.3 516.5,535.1 517.1,549.7 517.7,561.8 518.3,570.6 518.9,575.5 519.6,570.7 520.4,561.9 521.1,549.9 521.8,535.5 522.5,519.8 523.3,504.1 524.0,489.6 524.7,477.6 525.5,468.9 526.2,464.0 526.9,468.9 527.5,477.7 528.2,489.8 528.8,504.3 529.5,520.1 530.2,535.9 530.8,550.4 531.5,562.5 532.1,571.3 532.8,576.1 533.5,571.3 534.2,562.5 534.9,550.4 535.6,535.9 536.2,520.1 536.9,504.3 537.6,489.8 538.3,477.7 539.0,468.9 539.7,464.0 540.3,468.8 540.9,477.3 541.6,489.1 542.2,503.2 542.8,518.6 543.4,533.9 544.0,548.1 544.7,559.8 545.3,568.4 545.9,573.1 546.6,568.3 547.3,559.5 548.0,547.5 548.7,533.1 549.3,517.4 550.0,501.7 550.7,487.2 551.4,475.2 552.1,466.4 552.8,461.6 553.4,466.4 554.1,474.9 554.7,486.7 555.3,500.9 556.0,516.3 556.6,531.7 557.2,545.9 557.8,557.7 558.5,566.2 559.1,571.0 559.9,566.3 560.6,557.8 561.4,546.1 562.1,532.0 562.9,516.8 563.7,501.5 564.4,487.4 565.2,475.7 565.9,467.2 566.7,462.5 567.3,467.3 567.9,476.0 568.5,488.0 569.1,502.3 569.7,518.0 570.2,533.6 570.8,547.9 571.4,559.9 572.0,568.6 572.6,573.4 573.3,568.8 574.0,560.6 574.7,549.3 575.4,535.6 576.2,520.8 576.9,506.0 577.6,492.4 578.3,481.0 579.0,472.8 579.7,468.2 580.3,472.8 580.9,481.0 581.5,492.4 582.1,506.0 582.8,520.8 583.4,535.6 584.0,549.3 584.6,560.6 585.2,568.8 585.8,573.4 586.5,568.6 587.2,559.9 587.9,547.9 588.6,533.6 589.3,518.0 590.1,502.3 590.8,488.0 591.5,476.0 592.2,467.3 592.9,462.5 593.5,467.4 594.1,476.1 594.7,488.2 595.3,502.7 595.9,518.4 596.5,534.2 597.1,548.6 597.7,560.7 598.3,569.5 598.9,574.3 599.6,569.5 600.3,560.8 600.9,548.8 601.6,534.5 602.3,518.9 603.0,503.2 603.7,488.9 604.3,476.9 605.0,468.2 605.7,463.4 606.3,468.2 606.9,476.9 607.5,488.9 608.1,503.2 608.7,518.9 609.2,534.5 609.8,548.8 610.4,560.8 611.0,569.5 611.6,574.3 612.2,569.6 612.9,561.0 613.5,549.2 614.2,535.0 614.8,519.6 615.4,504.2 616.1,490.0 616.7,478.2 617.4,469.7 618.0,464.9 618.6,469.7 619.3,478.3 619.9,490.2 620.5,504.5 621.1,520.1 621.8,535.6 622.4,549.9 623.0,561.8 623.7,570.4 624.3,575.2 625.0,570.5 625.7,561.9 626.3,550.0 627.0,535.8 627.7,520.4 628.4,504.9 629.1,490.7 629.7,478.9 630.4,470.3 631.1,465.5 631.7,470.2 632.3,478.6 633.0,490.2 633.6,504.2 634.2,519.3 634.8,534.5 635.4,548.4 636.1,560.0 636.7,568.4 637.3,573.1 638.0,568.3 638.7,559.6 639.3,547.7 640.0,533.4 640.7,517.8 641.4,502.2 642.1,487.9 642.7,476.0 643.4,467.3 644.1,462.5 644.7,467.2 645.3,475.8 645.9,487.6 646.5,501.7 647.2,517.1 647.8,532.4 648.4,546.5 649.0,558.3 649.6,566.9 650.2,571.6 650.8,566.9 651.5,558.5 652.1,547.0 652.7,533.1 653.4,518.0 654.0,502.8 654.6,489.0 655.2,477.4 655.9,469.0 656.5,464.3 657.2,469.1 657.9,477.6 658.7,489.4 659.4,503.5 660.1,518.9 660.8,534.2 661.5,548.4 662.3,560.1 663.0,568.7 663.7,573.4 664.3,568.8 665.0,560.5 665.6,549.0 666.2,535.3 666.9,520.4 667.5,505.4 668.1,491.7 668.7,480.2 669.4,471.9 670.0,467.3" fill="none" stroke="#121200" stroke-opacity="0.56" stroke-width="1.15" stroke-linejoin="round"/>
<path d="M95.3,587.86H104.00M95.3,557.73H104.00M95.3,527.60H104.00M95.3,497.47H104.00M95.3,467.34H104.00M190.80,618.0V609.00M286.30,618.0V609.00M381.80,618.0V609.00M477.30,618.0V609.00M572.80,618.0V609.00" stroke="#111" stroke-width="1.7" fill="none"/>
<rect x="95.3" y="437.2" width="573.00" height="180.8" fill="none" stroke="#111" stroke-width="2"/>
<text x="84.8" y="443.91" font-size="20" text-anchor="end" fill="#111" class="t">300</text>
<text x="84.8" y="474.04" font-size="20" text-anchor="end" fill="#111" class="t">200</text>
<text x="84.8" y="504.17" font-size="20" text-anchor="end" fill="#111" class="t">100</text>
<text x="84.8" y="534.30" font-size="20" text-anchor="end" fill="#111" class="t">0</text>
<text x="84.8" y="564.43" font-size="20" text-anchor="end" fill="#111" class="t">−100</text>
<text x="84.8" y="594.56" font-size="20" text-anchor="end" fill="#111" class="t">−200</text>
<text x="84.8" y="624.69" font-size="20" text-anchor="end" fill="#111" class="t">−300</text>
<text x="104.4" y="457.3" font-size="16.6" fill="#222" class="a"><tspan font-style="italic">U</tspan>=1.17m/s</text>
<text x="213.1" y="456.2" font-size="16.6" fill="#222" class="a">max=223.18mm</text>
<text x="141.5" y="599.1" font-size="16.6" fill="#222" class="a">min=-175.41mm</text>
<rect x="95.3" y="650.2" width="573.00" height="180.8" fill="#e9e9e9"/>
<clipPath id="c3"><rect x="95.8" y="650.2" width="572.00" height="180.8"/></clipPath>
<path clip-path="url(#c3)" d="M96.1,790.3 96.5,785.3 97.0,776.2 97.4,763.6 97.9,748.5 98.3,732.2 98.8,715.8 99.2,700.7 99.7,688.2 100.1,679.1 100.6,674.0 101.2,679.0 101.9,688.0 102.5,700.5 103.2,715.5 103.8,731.7 104.5,748.0 105.1,762.9 105.8,775.4 106.4,784.4 107.1,789.4 107.8,784.4 108.6,775.5 109.3,763.1 110.0,748.3 110.8,732.2 111.5,716.0 112.2,701.2 112.9,688.8 113.7,679.9 114.4,674.9 115.1,679.9 115.7,689.0 116.4,701.4 117.0,716.4 117.7,732.6 118.4,748.9 119.0,763.8 119.7,776.3 120.3,785.3 121.0,790.3 121.7,785.2 122.4,776.0 123.1,763.3 123.8,748.0 124.5,731.4 125.1,714.8 125.8,699.6 126.5,686.8 127.2,677.6 127.9,672.5 128.6,677.7 129.2,687.0 129.9,699.8 130.6,715.2 131.2,732.0 131.9,748.8 132.6,764.2 133.3,777.0 133.9,786.4 134.6,791.5 135.3,786.4 136.0,777.2 136.6,764.5 137.3,749.3 138.0,732.8 138.7,716.2 139.4,701.0 140.0,688.3 140.7,679.1 141.4,674.0 142.1,679.1 142.8,688.3 143.5,701.0 144.2,716.2 144.9,732.8 145.5,749.3 146.2,764.5 146.9,777.2 147.6,786.4 148.3,791.5 148.9,786.5 149.6,777.4 150.2,765.0 150.8,750.0 151.4,733.7 152.1,717.4 152.7,702.4 153.3,689.9 154.0,680.8 154.6,675.8 155.3,680.8 155.9,689.8 156.6,702.2 157.2,717.2 157.9,733.4 158.6,749.6 159.2,764.5 159.9,776.9 160.5,785.9 161.2,790.9 161.8,785.8 162.5,776.7 163.1,764.1 163.8,748.9 164.4,732.5 165.1,716.0 165.8,700.9 166.4,688.2 167.0,679.1 167.7,674.0 168.3,679.0 169.0,687.9 169.6,700.3 170.2,715.1 170.8,731.3 171.5,747.4 172.1,762.2 172.7,774.6 173.4,783.5 174.0,788.5 174.7,783.6 175.5,774.8 176.2,762.6 176.9,748.0 177.7,732.2 178.4,716.3 179.1,701.7 179.8,689.5 180.6,680.7 181.3,675.8 181.9,680.7 182.5,689.4 183.0,701.5 183.6,716.0 184.2,731.7 184.8,747.5 185.4,761.9 185.9,774.0 186.5,782.8 187.1,787.6 187.8,782.7 188.5,773.8 189.2,761.5 189.9,746.8 190.6,730.8 191.2,714.8 191.9,700.1 192.6,687.8 193.3,678.9 194.0,674.0 194.6,679.0 195.3,687.9 195.9,700.3 196.5,715.1 197.2,731.3 197.8,747.4 198.4,762.2 199.0,774.6 199.7,783.5 200.3,788.5 201.0,783.6 201.8,774.8 202.5,762.7 203.2,748.1 203.9,732.3 204.7,716.5 205.4,701.9 206.1,689.8 206.9,681.0 207.6,676.1 208.2,681.0 208.8,689.7 209.4,701.8 210.0,716.3 210.6,732.0 211.3,747.8 211.9,762.2 212.5,774.3 213.1,783.1 213.7,787.9 214.4,783.0 215.1,774.1 215.8,761.8 216.5,747.0 217.2,731.0 217.9,714.9 218.6,700.2 219.3,687.9 220.0,679.0 220.7,674.0 221.3,679.1 221.9,688.4 222.6,701.2 223.2,716.5 223.8,733.2 224.4,749.9 225.0,765.2 225.7,778.0 226.3,787.3 226.9,792.4 227.6,787.2 228.3,777.8 229.0,764.8 229.7,749.3 230.4,732.3 231.1,715.4 231.8,699.8 232.5,686.8 233.2,677.4 233.9,672.2 234.5,677.4 235.2,686.8 235.8,699.7 236.5,715.2 237.1,732.0 237.7,748.9 238.4,764.4 239.0,777.3 239.7,786.6 240.3,791.8 241.0,786.5 241.7,777.0 242.4,763.9 243.1,748.2 243.8,731.0 244.5,713.9 245.2,698.1 245.9,685.0 246.6,675.5 247.3,670.2 248.0,675.5 248.6,684.9 249.3,698.0 249.9,713.7 250.6,730.7 251.3,747.8 251.9,763.4 252.6,776.5 253.2,786.0 253.9,791.2 254.6,786.2 255.3,777.0 255.9,764.4 256.6,749.3 257.3,732.9 258.0,716.5 258.7,701.4 259.3,688.8 260.0,679.7 260.7,674.6 261.4,679.7 262.1,688.8 262.7,701.3 263.4,716.4 264.1,732.8 264.8,749.2 265.5,764.2 266.1,776.8 266.8,785.9 267.5,790.9 268.2,785.9 268.9,776.8 269.5,764.2 270.2,749.2 270.9,732.8 271.6,716.4 272.3,701.3 272.9,688.8 273.6,679.7 274.3,674.6 274.9,679.6 275.5,688.6 276.2,701.0 276.8,715.9 277.4,732.2 278.0,748.4 278.6,763.3 279.3,775.7 279.9,784.7 280.5,789.7 281.2,784.7 281.9,775.6 282.6,763.1 283.3,748.2 284.0,731.9 284.7,715.6 285.4,700.6 286.1,688.1 286.8,679.0 287.5,674.0 288.1,679.1 288.8,688.3 289.4,700.9 290.0,716.1 290.6,732.6 291.3,749.1 291.9,764.3 292.5,777.0 293.2,786.1 293.8,791.2 294.5,786.2 295.2,777.0 295.8,764.4 296.5,749.3 297.2,732.9 297.9,716.5 298.6,701.4 299.2,688.8 299.9,679.7 300.6,674.6 301.3,679.7 301.9,688.8 302.6,701.3 303.2,716.4 303.9,732.8 304.6,749.2 305.2,764.2 305.9,776.8 306.5,785.9 307.2,790.9 307.9,785.8 308.6,776.6 309.3,763.9 310.0,748.6 310.7,732.0 311.4,715.4 312.1,700.2 312.8,687.4 313.5,678.2 314.2,673.1 314.8,678.2 315.5,687.5 316.1,700.2 316.8,715.5 317.4,732.2 318.0,748.8 318.7,764.1 319.3,776.9 320.0,786.1 320.6,791.2 321.3,786.1 322.0,776.9 322.7,764.1 323.4,748.8 324.1,732.2 324.8,715.5 325.5,700.2 326.2,687.5 326.9,678.2 327.6,673.1 328.3,678.1 328.9,687.1 329.6,699.6 330.2,714.6 330.9,730.8 331.6,747.1 332.2,762.0 332.9,774.5 333.5,783.5 334.2,788.5 334.9,783.6 335.6,774.7 336.3,762.4 337.0,747.6 337.6,731.6 338.3,715.5 339.0,700.8 339.7,688.5 340.4,679.6 341.1,674.6 341.8,679.6 342.4,688.6 343.1,701.0 343.8,715.9 344.5,732.2 345.1,748.4 345.8,763.3 346.5,775.7 347.1,784.7 347.8,789.7 348.5,784.7 349.2,775.7 349.8,763.3 350.5,748.4 351.2,732.2 351.9,715.9 352.6,701.0 353.2,688.6 353.9,679.6 354.6,674.6 355.3,679.7 356.0,688.8 356.7,701.3 357.4,716.4 358.1,732.8 358.7,749.2 359.4,764.2 360.1,776.8 360.8,785.9 361.5,790.9 362.2,785.8 363.0,776.5 363.7,763.7 364.4,748.3 365.1,731.6 365.9,714.8 366.6,699.5 367.3,686.6 368.1,677.4 368.8,672.2 369.5,677.4 370.1,686.7 370.8,699.6 371.5,715.1 372.1,731.9 372.8,748.7 373.5,764.1 374.2,777.0 374.8,786.3 375.5,791.5 376.2,786.3 377.0,777.0 377.7,764.1 378.4,748.7 379.1,731.9 379.9,715.1 380.6,699.6 381.3,686.7 382.1,677.4 382.8,672.2 383.5,677.4 384.2,686.8 384.9,699.7 385.6,715.2 386.2,732.0 386.9,748.9 387.6,764.4 388.3,777.3 389.0,786.6 389.7,791.8 390.4,786.7 391.0,777.4 391.7,764.6 392.3,749.3 393.0,732.6 393.7,715.9 394.3,700.6 395.0,687.8 395.6,678.5 396.3,673.4 397.0,678.5 397.7,687.8 398.4,700.6 399.1,715.9 399.8,732.6 400.5,749.3 401.2,764.6 401.9,777.4 402.6,786.7 403.3,791.8 403.9,786.6 404.6,777.3 405.2,764.4 405.9,748.9 406.5,732.0 407.1,715.2 407.8,699.7 408.4,686.8 409.1,677.4 409.7,672.2 410.4,677.5 411.0,687.0 411.7,700.2 412.4,716.0 413.0,733.2 413.7,750.4 414.4,766.2 415.1,779.3 415.7,788.9 416.4,794.2 417.1,788.9 417.8,779.4 418.5,766.4 419.2,750.7 419.9,733.6 420.5,716.6 421.2,700.9 421.9,687.8 422.6,678.4 423.3,673.1 424.0,678.1 424.7,687.1 425.3,699.6 426.0,714.6 426.7,730.8 427.4,747.1 428.1,762.0 428.7,774.5 429.4,783.5 430.1,788.5 430.8,783.5 431.5,774.4 432.2,761.8 432.9,746.7 433.6,730.4 434.4,714.0 435.1,698.9 435.8,686.3 436.5,677.2 437.2,672.2 437.9,677.2 438.6,686.3 439.3,698.9 440.0,714.0 440.7,730.4 441.4,746.7 442.1,761.8 442.8,774.4 443.5,783.5 444.2,788.5 444.9,783.6 445.6,774.8 446.2,762.6 446.9,747.9 447.6,732.0 448.3,716.1 449.0,701.5 449.6,689.3 450.3,680.4 451.0,675.5 451.7,680.4 452.4,689.3 453.1,701.5 453.8,716.1 454.4,732.0 455.1,747.9 455.8,762.6 456.5,774.8 457.2,783.6 457.9,788.5 458.6,783.5 459.2,774.6 459.9,762.2 460.6,747.4 461.2,731.3 461.9,715.1 462.6,700.3 463.3,687.9 463.9,679.0 464.6,674.0 465.2,679.1 465.9,688.3 466.6,701.1 467.2,716.3 467.9,732.9 468.5,749.5 469.2,764.8 469.8,777.5 470.5,786.7 471.1,791.8 471.8,786.8 472.4,777.6 473.1,765.0 473.8,749.8 474.5,733.4 475.1,716.9 475.8,701.8 476.5,689.1 477.1,680.0 477.8,674.9 478.4,679.9 479.1,689.0 479.7,701.5 480.4,716.6 481.0,732.9 481.6,749.3 482.3,764.3 482.9,776.8 483.6,785.9 484.2,790.9 484.9,785.8 485.6,776.7 486.3,764.1 487.0,748.9 487.7,732.5 488.4,716.0 489.1,700.9 489.8,688.2 490.5,679.1 491.2,674.0 491.9,679.1 492.5,688.3 493.2,700.9 493.8,716.1 494.5,732.6 495.2,749.1 495.8,764.3 496.5,777.0 497.1,786.1 497.8,791.2 498.5,786.2 499.2,777.1 499.8,764.5 500.5,749.5 501.2,733.1 501.9,716.7 502.6,701.6 503.2,689.1 503.9,680.0 504.6,674.9 505.3,680.0 505.9,689.1 506.6,701.8 507.3,716.9 508.0,733.4 508.6,749.8 509.3,765.0 510.0,777.6 510.6,786.8 511.3,791.8 512.0,786.8 512.7,777.7 513.4,765.2 514.1,750.2 514.8,733.8 515.4,717.5 516.1,702.5 516.8,689.9 517.5,680.8 518.2,675.8 518.9,680.8 519.5,689.9 520.2,702.5 520.8,717.5 521.5,733.8 522.2,750.2 522.8,765.2 523.5,777.7 524.1,786.8 524.8,791.8 525.5,786.9 526.2,778.0 526.9,765.7 527.6,750.9 528.3,734.9 529.0,718.8 529.7,704.1 530.4,691.8 531.1,682.9 531.8,677.9 532.4,682.7 533.0,691.4 533.6,703.3 534.2,717.6 534.8,733.2 535.5,748.8 536.1,763.1 536.7,775.1 537.3,783.7 537.9,788.5 538.6,783.5 539.3,774.5 540.0,762.0 540.7,747.1 541.4,730.8 542.1,714.6 542.8,699.6 543.5,687.1 544.2,678.1 544.9,673.1 545.6,678.2 546.3,687.4 547.0,700.2 547.7,715.4 548.3,732.0 549.0,748.6 549.7,763.9 550.4,776.6 551.1,785.8 551.8,790.9 552.5,785.8 553.3,776.4 554.0,763.6 554.7,748.2 555.5,731.4 556.2,714.6 556.9,699.2 557.6,686.4 558.4,677.1 559.1,671.9 559.8,677.1 560.5,686.4 561.1,699.3 561.8,714.8 562.5,731.6 563.2,748.4 563.9,763.8 564.5,776.7 565.2,786.0 565.9,791.2 566.6,786.2 567.2,777.1 567.9,764.6 568.6,749.6 569.2,733.2 569.9,716.9 570.6,701.8 571.3,689.3 571.9,680.2 572.6,675.2 573.2,680.2 573.9,689.3 574.6,701.7 575.2,716.7 575.9,732.9 576.5,749.2 577.1,764.1 577.8,776.6 578.5,785.6 579.1,790.6 579.8,785.6 580.4,776.5 581.1,764.0 581.8,749.0 582.5,732.6 583.1,716.3 583.8,701.2 584.5,688.7 585.1,679.6 585.8,674.6 586.5,679.5 587.2,688.4 587.8,700.6 588.5,715.3 589.2,731.3 589.9,747.2 590.6,761.9 591.2,774.1 591.9,783.0 592.6,787.9 593.2,783.0 593.9,774.1 594.5,761.9 595.1,747.2 595.8,731.3 596.4,715.3 597.0,700.6 597.6,688.4 598.3,679.5 598.9,674.6 599.6,679.6 600.3,688.7 600.9,701.2 601.6,716.3 602.3,732.6 603.0,749.0 603.7,764.0 604.3,776.5 605.0,785.6 605.7,790.6 606.4,785.6 607.0,776.5 607.7,764.0 608.4,749.0 609.0,732.6 609.7,716.3 610.4,701.2 611.1,688.7 611.7,679.6 612.4,674.6 613.1,679.6 613.8,688.7 614.4,701.2 615.1,716.3 615.8,732.6 616.5,749.0 617.2,764.0 617.8,776.5 618.5,785.6 619.2,790.6 619.9,785.7 620.6,776.9 621.2,764.7 621.9,750.1 622.6,734.3 623.3,718.4 624.0,703.8 624.6,691.6 625.3,682.8 626.0,677.9 626.6,682.7 627.2,691.2 627.9,703.0 628.5,717.1 629.1,732.5 629.7,747.8 630.3,762.0 631.0,773.7 631.6,782.3 632.2,787.0 632.9,782.4 633.6,774.0 634.2,762.4 634.9,748.6 635.6,733.5 636.3,718.5 637.0,704.6 637.6,693.0 638.3,684.7 639.0,680.0 639.6,684.9 640.3,693.7 640.9,705.8 641.6,720.3 642.2,736.1 642.8,751.9 643.5,766.4 644.1,778.5 644.8,787.3 645.4,792.1 646.0,787.0 646.6,777.7 647.2,764.9 647.8,749.6 648.4,732.9 649.0,716.2 649.6,700.9 650.2,688.1 650.8,678.8 651.4,673.7 652.0,678.8 652.6,687.9 653.3,700.6 653.9,715.7 654.5,732.2 655.1,748.6 655.7,763.8 656.4,776.4 657.0,785.5 657.6,790.6 658.3,785.5 659.0,776.3 659.6,763.6 660.3,748.4 661.0,731.9 661.7,715.3 662.4,700.1 663.0,687.4 663.7,678.2 664.4,673.1 665.1,678.1 665.7,687.2 666.4,699.7 667.0,714.7 667.7,731.0 668.4,747.3 669.0,762.2 669.7,774.7 670.3,783.8 671.0,788.8" fill="none" stroke="#111111" stroke-opacity="0.56" stroke-width="1.15" stroke-linejoin="round"/>
<path d="M95.3,800.86H104.00M95.3,770.73H104.00M95.3,740.60H104.00M95.3,710.47H104.00M95.3,680.34H104.00M190.80,831.0V822.00M286.30,831.0V822.00M381.80,831.0V822.00M477.30,831.0V822.00M572.80,831.0V822.00" stroke="#111" stroke-width="1.7" fill="none"/>
<rect x="95.3" y="650.2" width="573.00" height="180.8" fill="none" stroke="#111" stroke-width="2"/>
<text x="84.8" y="656.91" font-size="20" text-anchor="end" fill="#111" class="t">300</text>
<text x="84.8" y="687.04" font-size="20" text-anchor="end" fill="#111" class="t">200</text>
<text x="84.8" y="717.17" font-size="20" text-anchor="end" fill="#111" class="t">100</text>
<text x="84.8" y="747.30" font-size="20" text-anchor="end" fill="#111" class="t">0</text>
<text x="84.8" y="777.43" font-size="20" text-anchor="end" fill="#111" class="t">−100</text>
<text x="84.8" y="807.56" font-size="20" text-anchor="end" fill="#111" class="t">−200</text>
<text x="84.8" y="837.69" font-size="20" text-anchor="end" fill="#111" class="t">−300</text>
<text x="102.4" y="669.1" font-size="16.6" fill="#222" class="a"><tspan font-style="italic">U</tspan>=1.21m/s</text>
<text x="251.1" y="666.8" font-size="16.6" fill="#222" class="a">max=233.58mm</text>
<text x="404.9" y="814.7" font-size="16.6" fill="#222" class="a">min=-177.8mm</text>
<text x="95.30" y="857" font-size="20" text-anchor="middle" fill="#111" class="t">0</text>
<text x="190.80" y="857" font-size="20" text-anchor="middle" fill="#111" class="t">10</text>
<text x="286.30" y="857" font-size="20" text-anchor="middle" fill="#111" class="t">20</text>
<text x="381.80" y="857" font-size="20" text-anchor="middle" fill="#111" class="t">30</text>
<text x="477.30" y="857" font-size="20" text-anchor="middle" fill="#111" class="t">40</text>
<text x="572.80" y="857" font-size="20" text-anchor="middle" fill="#111" class="t">50</text>
<text x="668.30" y="857" font-size="20" text-anchor="middle" fill="#111" class="t">60</text>
<text x="340.6" y="890" font-size="27" fill="#111" class="t">Time (s)</text>
<g transform="translate(23,526.6) rotate(-90)"><text x="0" y="0" font-size="27" fill="#111" class="t">Displacement</text></g>
<g transform="translate(23,363.9) rotate(-90)"><text x="0" y="0" font-size="27" fill="#111" class="t">(mm)</text></g>
</svg></body></html>
